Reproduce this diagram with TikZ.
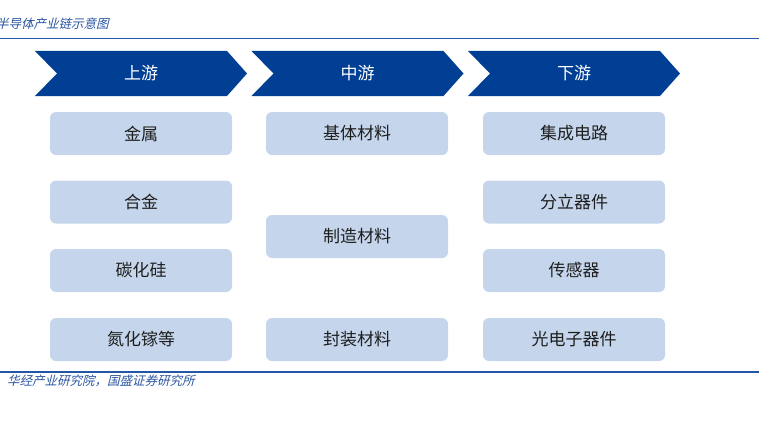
\documentclass[tikz,border=0pt]{standalone}
\usepackage{fontspec}
\newfontfamily\cjk{Noto Sans CJK SC}
\newfontfamily\cjkit[FakeSlant=0.25]{Noto Sans CJK SC}
\definecolor{chev}{HTML}{003F93}
\definecolor{boxfill}{HTML}{C5D6EC}
\definecolor{rule}{HTML}{2456A6}
\definecolor{txt}{HTML}{1E1E1E}
\definecolor{ital}{HTML}{2A55A0}
\tikzset{
  chevshape/.style={fill=chev, draw=none},
  chevlabel/.style={text=white, font=\cjk\fontsize{17}{19}\selectfont, inner sep=0pt},
  itembox/.style={fill=boxfill, draw=none, rounded corners=6pt, minimum width=182pt, minimum height=43pt, inner sep=0pt, text=txt, font=\cjk\fontsize{17}{19}\selectfont},
  rulestyle/.style={draw=rule, line width=1.8pt},
  italtext/.style={text=ital, font=\cjkit\fontsize{12.5}{14}\selectfont, inner sep=0pt, anchor=west}
}
\begin{document}
\begin{tikzpicture}[x=1pt,y=-1pt]
\useasboundingbox (0,0) rectangle (759,420);
% title and rules
\node[italtext] (title) at (-4,24) {半导体产业链示意图};
\coordinate (tl) at (0,38.5);
\coordinate (tr) at (759,38.5);
\draw[rulestyle] (tl) -- (tr);
\coordinate (bl) at (0,372);
\coordinate (br) at (759,372);
\draw[rulestyle] (bl) -- (br);
\node[italtext] (src) at (7,381) {华经产业研究院，国盛证券研究所};
% chevrons
\foreach \i/\lab in {0/上游,1/中游,2/下游}{
  \pgfmathsetmacro{\ox}{35+216.5*\i}
  \fill[chevshape] (\ox,51) -- (\ox+192,51) -- (\ox+212,73.5) -- (\ox+192,96) -- (\ox,96) -- (\ox+22,73.5) -- cycle;
  \node[chevlabel] (chev\i) at (\ox+106,73.5) {\lab};
}
% column 1
\node[itembox] (a1) at (141,133.5) {金属};
\node[itembox] (a2) at (141,202) {合金};
\node[itembox] (a3) at (141,270.5) {碳化硅};
\node[itembox] (a4) at (141,339.5) {氮化镓等};
% column 2
\node[itembox] (b1) at (357,133.5) {基体材料};
\node[itembox] (b2) at (357,236.5) {制造材料};
\node[itembox] (b3) at (357,339.5) {封装材料};
% column 3
\node[itembox] (c1) at (574,133.5) {集成电路};
\node[itembox] (c2) at (574,202) {分立器件};
\node[itembox] (c3) at (574,270.5) {传感器};
\node[itembox] (c4) at (574,339.5) {光电子器件};
\end{tikzpicture}
\end{document}
